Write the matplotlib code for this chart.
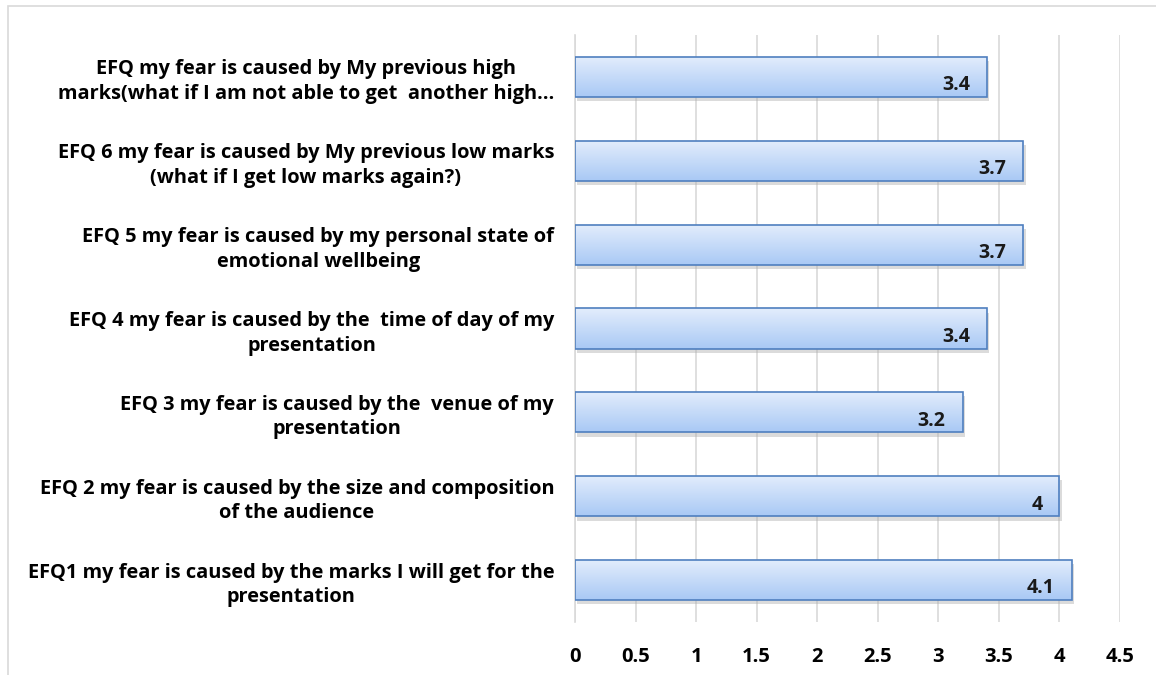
import numpy as np
import matplotlib.pyplot as plt
from matplotlib.patches import Rectangle
from matplotlib.colors import LinearSegmentedColormap

labels = [
    "EFQ1 my fear is caused by the marks I will get for the\npresentation",
    "EFQ 2 my fear is caused by the size and composition\nof the audience",
    "EFQ 3 my fear is caused by the  venue of my\npresentation",
    "EFQ 4 my fear is caused by the  time of day of my\npresentation",
    "EFQ 5 my fear is caused by my personal state of\nemotional wellbeing",
    "EFQ 6 my fear is caused by My previous low marks\n(what if I get low marks again?)",
    "EFQ my fear is caused by My previous high\nmarks(what if I am not able to get  another high\u2026",
]
values = [4.1, 4, 3.2, 3.4, 3.7, 3.7, 3.4]
value_text = ["4.1", "4", "3.2", "3.4", "3.7", "3.7", "3.4"]
xticks = [0, 0.5, 1, 1.5, 2, 2.5, 3, 3.5, 4, 4.5]
xtick_text = ["0", "0.5", "1", "1.5", "2", "2.5", "3", "3.5", "4", "4.5"]

plt.rcParams['font.family'] = ['Open Sans', 'DejaVu Sans']

fig = plt.figure(figsize=(11.56, 6.75), dpi=100)
fig.patches.append(Rectangle((8/1156, -0.1), 1.2, 1 - 6/675 + 0.1, transform=fig.transFigure,
                             fill=False, edgecolor='#d9d9d9', lw=1.2))
ax = fig.add_axes([575/1156, 1 - 622/675, 545/1156, 587/675])

y = np.arange(len(values))
h = 0.48
bars = ax.barh(y, values, height=h, color='none', edgecolor='#4f7fbf', lw=1.2, zorder=3)

# gradient fill + soft shadow
grad = np.linspace(0, 1, 64).reshape(-1, 1)
cmap = LinearSegmentedColormap.from_list('g', ['#e3edfc', '#a9c9f5'])
for b in bars:
    x0, y0 = b.get_x(), b.get_y()
    w, hh = b.get_width(), b.get_height()
    sh = Rectangle((x0 + 0.02, y0 - 0.05), w, hh, facecolor='#b0b0b0', alpha=0.45,
                   edgecolor='none', zorder=1)
    ax.add_patch(sh)
    im = ax.imshow(grad, extent=[x0, x0 + w, y0, y0 + hh], cmap=cmap, aspect='auto',
                   origin='upper', zorder=2)
    im.set_clip_path(b)

for yi, v, t in zip(y, values, value_text):
    ax.text(v - 0.14, yi - 0.1, t, ha='right', va='center', fontsize=14,
            fontweight='bold', color='#1a1a1a', zorder=4)

ax.set_xlim(0, 4.5)
ax.set_ylim(-0.5, 6.5)
ax.set_xticks(xticks)
ax.set_xticklabels(xtick_text, fontsize=14.5, fontweight='bold')
ax.set_yticks(y)
ax.set_yticklabels(labels, fontsize=14.4, fontweight='bold', multialignment='center',
                   linespacing=1.3)
ax.tick_params(axis='both', length=0)
ax.tick_params(axis='x', pad=18)
ax.tick_params(axis='y', pad=15)
ax.grid(axis='x', color='#d9d9d9', lw=1.2, zorder=0)
ax.set_axisbelow(True)
for s in ['top', 'right', 'bottom']:
    ax.spines[s].set_visible(False)
ax.spines['left'].set_color('#d9d9d9')
ax.spines['left'].set_linewidth(1.2)

fig.savefig('out.png', dpi=100)
